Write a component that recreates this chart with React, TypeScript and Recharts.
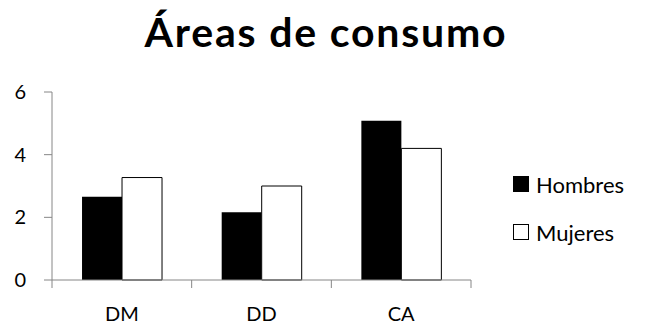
import React from "react";
import { BarChart, Bar, XAxis, YAxis } from "recharts";

const categories = ["DM", "DD", "CA"];
const hombres = [2.66, 2.16, 5.08];
const mujeres = [3.27, 3.0, 4.2];
const yTicks = [0, 2, 4, 6];

const series = [
  { key: "Hombres", fill: "#000" },
  { key: "Mujeres", fill: "#fff" },
];

const data = categories.map((name, i) => ({
  name,
  Hombres: hombres[i],
  Mujeres: mujeres[i],
}));

const W = 647;
const H = 327;
const MARGIN = { top: 92, right: 176, bottom: 17, left: 12 };
const Y_AXIS_W = 40;
const AXIS_COLOR = "#868686";
const FONT = "Lato, 'Open Sans', sans-serif";

const plotLeft = MARGIN.left + Y_AXIS_W;
const plotWidth = W - MARGIN.right - plotLeft;
const band = plotWidth / categories.length;

// category labels, with the tick marks sitting on the band boundaries
function CategoryTick(props: any) {
  const { x, y, payload, index } = props;
  const left = x - band / 2;
  return (
    <g>
      <line x1={left} y1={y} x2={left} y2={y + 8} stroke={AXIS_COLOR} />
      {index === categories.length - 1 && (
        <line x1={left + band} y1={y} x2={left + band} y2={y + 8} stroke={AXIS_COLOR} />
      )}
      <text
        x={x}
        y={y + 41}
        textAnchor="middle"
        fontSize={20}
        fontFamily={FONT}
        fill="#000"
      >
        {payload.value}
      </text>
    </g>
  );
}

function LegendBox() {
  return (
    <div
      style={{
        position: "absolute",
        left: 513,
        top: 160,
        fontFamily: FONT,
        fontSize: 22,
        color: "#000",
      }}
    >
      {series.map((s) => (
        <div key={s.key} style={{ display: "flex", alignItems: "center", height: 48 }}>
          <span
            style={{
              display: "inline-block",
              width: 14,
              height: 14,
              background: s.fill,
              border: "1px solid #000",
              marginRight: 7,
            }}
          />
          {s.key}
        </div>
      ))}
    </div>
  );
}

export default function App() {
  return (
    <div style={{ position: "relative", width: W, height: H, background: "#fff" }}>
      <style>{`body{margin:0}`}</style>
      <div
        style={{
          position: "absolute",
          top: 8,
          left: 0,
          width: W,
          textAlign: "center",
          fontFamily: FONT,
          fontWeight: 700,
          fontSize: 41,
          letterSpacing: 1.8,
          lineHeight: "48px",
          paddingLeft: 5,
          boxSizing: "border-box",
        }}
      >
        Áreas de consumo
      </div>
      <BarChart
        width={W}
        height={H}
        data={data}
        margin={MARGIN}
        barGap={0}
        barCategoryGap="21.5%"
      >
        <XAxis
          dataKey="name"
          stroke={AXIS_COLOR}
          tickLine={false}
          tickSize={0}
          tickMargin={0}
          tick={<CategoryTick />}
          height={30}
          interval={0}
        />
        <YAxis
          width={Y_AXIS_W}
          domain={[0, 6]}
          ticks={yTicks}
          stroke={AXIS_COLOR}
          tickSize={8}
          tickMargin={18}
          tick={{ fill: "#000", fontSize: 20, fontFamily: FONT }}
          interval={0}
        />
        {series.map((s) => (
          <Bar
            key={s.key}
            dataKey={s.key}
            fill={s.fill}
            stroke={s.fill === "#fff" ? "#000" : undefined}
            strokeWidth={1}
            isAnimationActive={false}
          />
        ))}
      </BarChart>
      <LegendBox />
    </div>
  );
}
